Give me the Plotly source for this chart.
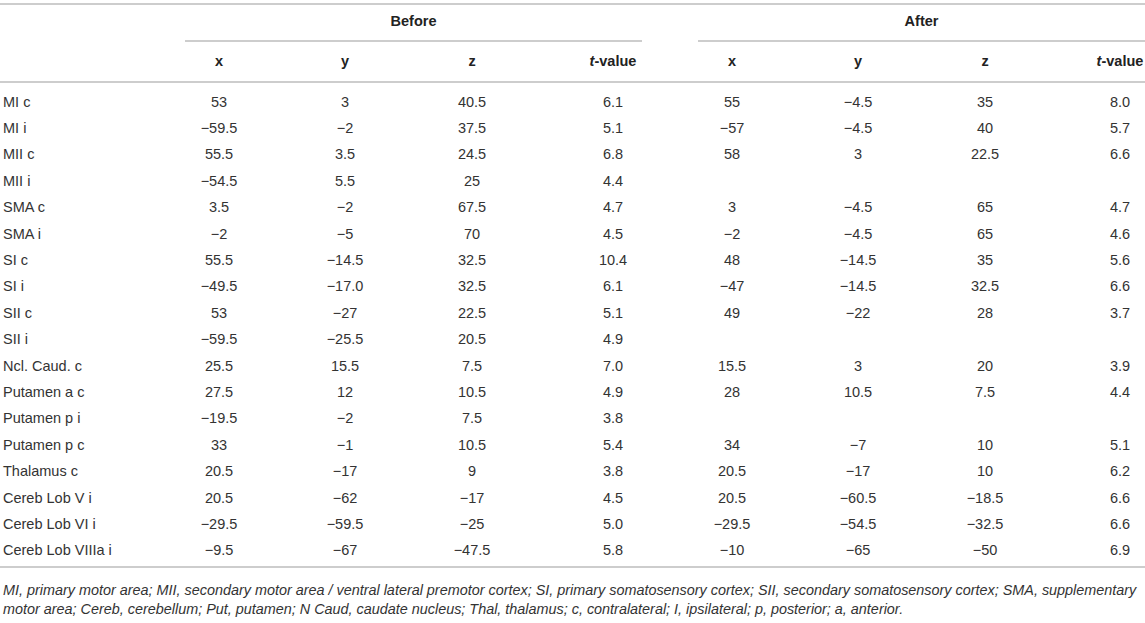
import plotly.graph_objects as go

# Table content
regions = ['MI c', 'MI i', 'MII c', 'MII i', 'SMA c', 'SMA i', 'SI c', 'SI i', 'SII c', 'SII i',
           'Ncl. Caud. c', 'Putamen a c', 'Putamen p i', 'Putamen p c', 'Thalamus c',
           'Cereb Lob V i', 'Cereb Lob VI i', 'Cereb Lob VIIIa i']

before_x = ['53', '−59.5', '55.5', '−54.5', '3.5', '−2', '55.5', '−49.5', '53', '−59.5',
            '25.5', '27.5', '−19.5', '33', '20.5', '20.5', '−29.5', '−9.5']
before_y = ['3', '−2', '3.5', '5.5', '−2', '−5', '−14.5', '−17.0', '−27', '−25.5',
            '15.5', '12', '−2', '−1', '−17', '−62', '−59.5', '−67']
before_z = ['40.5', '37.5', '24.5', '25', '67.5', '70', '32.5', '32.5', '22.5', '20.5',
            '7.5', '10.5', '7.5', '10.5', '9', '−17', '−25', '−47.5']
before_t = ['6.1', '5.1', '6.8', '4.4', '4.7', '4.5', '10.4', '6.1', '5.1', '4.9',
            '7.0', '4.9', '3.8', '5.4', '3.8', '4.5', '5.0', '5.8']

after_x = ['55', '−57', '58', '', '3', '−2', '48', '−47', '49', '',
           '15.5', '28', '', '34', '20.5', '20.5', '−29.5', '−10']
after_y = ['−4.5', '−4.5', '3', '', '−4.5', '−4.5', '−14.5', '−14.5', '−22', '',
           '3', '10.5', '', '−7', '−17', '−60.5', '−54.5', '−65']
after_z = ['35', '40', '22.5', '', '65', '65', '35', '32.5', '28', '',
           '20', '7.5', '', '10', '10', '−18.5', '−32.5', '−50']
after_t = ['8.0', '5.7', '6.6', '', '4.7', '4.6', '5.6', '6.6', '3.7', '',
           '3.9', '4.4', '', '5.1', '6.2', '6.6', '6.6', '6.9']

groups = ['Before', 'After']
col_headers = ['x', 'y', 'z', '<i>t</i>-value']

footnote = ('MI, primary motor area; MII, secondary motor area / ventral lateral premotor cortex; '
            'SI, primary somatosensory cortex; SII, secondary somatosensory cortex; SMA, supplementary<br>'
            'motor area; Cereb, cerebellum; Put, putamen; N Caud, caudate nucleus; Thal, thalamus; '
            'c, contralateral; I, ipsilateral; p, posterior; a, anterior.')

# Layout helpers (x in pixels across the page, y in row units)
W, H = 1145, 623
col_centers = [219, 345, 472, 613, 732, 858, 985, 1120]
group_spans = [(185, 642), (698, 1145)]
row_top, row_step = 103, 26.4
FONT = 'Liberation Sans, Arial, Helvetica, sans-serif'
TXT = '#333333'
RULE = '#bdbdbd'
SIZE = 14.5


def ypos(px):
    return (px - row_top) / row_step


rows = list(range(len(regions)))
columns = [before_x, before_y, before_z, before_t, after_x, after_y, after_z, after_t]

fig = go.Figure()

# region labels
fig.add_trace(go.Scatter(
    x=[3] * len(regions), y=rows, text=regions, mode='text',
    textposition='middle right', textfont=dict(family=FONT, size=SIZE, color=TXT),
    hoverinfo='skip', showlegend=False
))

# numeric columns
for cx, vals in zip(col_centers, columns):
    fig.add_trace(go.Scatter(
        x=[cx] * len(vals), y=rows, text=vals, mode='text',
        textposition='middle center', textfont=dict(family=FONT, size=SIZE, color=TXT),
        hoverinfo='skip', showlegend=False
    ))

# column headers
fig.add_trace(go.Scatter(
    x=col_centers, y=[ypos(62)] * len(col_centers),
    text=['<b>%s</b>' % h for h in col_headers * 2], mode='text',
    textposition='middle center', textfont=dict(family=FONT, size=SIZE, color='#222222'),
    hoverinfo='skip', showlegend=False
))

# group headers
fig.add_trace(go.Scatter(
    x=[(a + b) / 2 for a, b in group_spans], y=[ypos(22)] * 2,
    text=['<b>%s</b>' % g for g in groups], mode='text',
    textposition='middle center', textfont=dict(family=FONT, size=SIZE, color='#222222'),
    hoverinfo='skip', showlegend=False
))

# rules
shapes = []
for py in (4, 82, 567):
    shapes.append(dict(type='line', xref='x', yref='y', x0=0, x1=W, y0=ypos(py), y1=ypos(py),
                       line=dict(color=RULE, width=1.5)))
for a, b in group_spans:
    shapes.append(dict(type='line', xref='x', yref='y', x0=a, x1=b, y0=ypos(41), y1=ypos(41),
                       line=dict(color=RULE, width=1.5)))

fig.update_layout(
    width=W, height=H,
    margin=dict(l=0, r=0, t=0, b=0),
    paper_bgcolor='white', plot_bgcolor='white',
    xaxis=dict(range=[0, W], visible=False, fixedrange=True),
    yaxis=dict(range=[ypos(H), ypos(0)], visible=False, fixedrange=True),
    shapes=shapes,
    annotations=[dict(
        xref='x', yref='y', x=1, y=ypos(599), xanchor='left', yanchor='middle',
        text='<i>%s</i>' % footnote, showarrow=False, align='left',
        font=dict(family=FONT, size=14.4, color=TXT)
    )],
    font=dict(family=FONT)
)

fig.write_html("out.html", config={'displayModeBar': False},
               post_script="document.body.style.margin='0';")
